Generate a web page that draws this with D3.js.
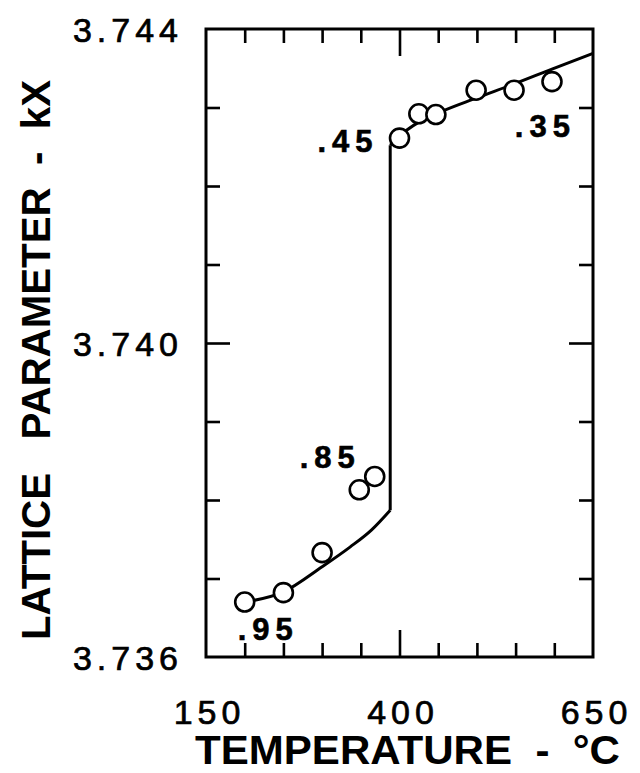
<!DOCTYPE html>
<html>
<head>
<meta charset="utf-8">
<script src="https://cdn.jsdelivr.net/npm/d3@7"></script>
<style>
  html, body { margin: 0; padding: 0; background: #fff; }
  svg { display: block; }
</style>
</head>
<body>
<svg id="chart" width="640" height="773"></svg>
<script>
// ---------- data ----------
const xDomain = [150, 650];
const yDomain = [3.736, 3.744];
const xTickLabels = [150, 400, 650];
const yTickLabels = [3.736, 3.740, 3.744];
const xMinorTicks = [200, 250, 300, 350, 400, 450, 500, 550, 600];
const yMinorTicks = [3.737, 3.738, 3.739, 3.740, 3.741, 3.742, 3.743];
const xMajorTick = 400;
const yMajorTick = 3.740;

// measured points (temperature °C, lattice parameter kX)
const pointT = [200, 250, 300, 348, 368, 400, 425, 447, 499, 548, 597];
const pointA = [3.73670, 3.73682, 3.73733, 3.73813, 3.73830, 3.74261, 3.74292, 3.74291, 3.74322, 3.74322, 3.74333];

// fitted curve: lower branch, jump, upper branch
const lowerT = [200, 250, 300, 336, 364, 388];
const lowerA = [3.73670, 3.73683, 3.73715, 3.73740, 3.73762, 3.73787];
const jumpT = 388;
const upperT = [388, 397, 426, 452, 499, 548, 597, 650];
const upperA = [3.74252, 3.74261, 3.74282, 3.74294, 3.74312, 3.74330, 3.74349, 3.74369];

// composition annotations
const annoText = [".95", ".85", ".45", ".35"];
const annoT = [191, 271, 294, 549];
const annoA = [3.73622, 3.73841, 3.74243, 3.74262];

// ---------- layout ----------
const svg = d3.select("#chart");
const L = 206, R = 593, T = 29, B = 657;
const x = d3.scaleLinear().domain(xDomain).range([L, R]);
const y = d3.scaleLinear().domain(yDomain).range([B, T]);

const ink = "#000";
const font = "'Liberation Sans', Arial, Helvetica, sans-serif";

const minorLen = 14, majorLen = 27;
const tx = t => (t === xMajorTick ? majorLen : minorLen);
const ty = t => (Math.abs(t - yMajorTick) < 1e-9 ? majorLen - 3 : minorLen);

svg.append("g").attr("transform", `translate(0,${B})`)
  .call(d3.axisTop(x).tickValues(xMinorTicks).tickFormat("").tickSizeOuter(0))
  .call(g => g.select(".domain").remove())
  .call(g => g.selectAll(".tick line").attr("y2", d => -tx(d)).attr("stroke", ink).attr("stroke-width", 2.6));

svg.append("g").attr("transform", `translate(0,${T})`)
  .call(d3.axisBottom(x).tickValues(xMinorTicks).tickFormat("").tickSizeOuter(0))
  .call(g => g.select(".domain").remove())
  .call(g => g.selectAll(".tick line").attr("y2", d => tx(d)).attr("stroke", ink).attr("stroke-width", 2.6));

svg.append("g").attr("transform", `translate(${L},0)`)
  .call(d3.axisRight(y).tickValues(yMinorTicks).tickFormat("").tickSizeOuter(0))
  .call(g => g.select(".domain").remove())
  .call(g => g.selectAll(".tick line").attr("x2", d => ty(d)).attr("stroke", ink).attr("stroke-width", 2.6));

svg.append("g").attr("transform", `translate(${R},0)`)
  .call(d3.axisLeft(y).tickValues(yMinorTicks).tickFormat("").tickSizeOuter(0))
  .call(g => g.select(".domain").remove())
  .call(g => g.selectAll(".tick line").attr("x2", d => -ty(d)).attr("stroke", ink).attr("stroke-width", 2.6));

// frame
svg.append("rect").attr("x", L).attr("y", T).attr("width", R - L).attr("height", B - T)
  .attr("fill", "none").attr("stroke", ink).attr("stroke-width", 3);

// tick labels
svg.append("g").attr("transform", `translate(0,${B})`)
  .call(d3.axisBottom(x).tickValues(xTickLabels).tickFormat(d3.format("d")).tickSize(0).tickPadding(0))
  .call(g => g.select(".domain").remove())
  .call(g => g.selectAll(".tick text")
    .attr("y", 67).attr("dy", 0).attr("dx", 3)
    .attr("font-family", font).attr("font-size", 34)
    .attr("letter-spacing", "5px").attr("fill", ink)
    .attr("stroke", ink).attr("stroke-width", 0.7));

svg.append("g").attr("transform", `translate(${L},0)`)
  .call(d3.axisLeft(y).tickValues(yTickLabels).tickFormat(d3.format(".3f")).tickSize(0).tickPadding(0))
  .call(g => g.select(".domain").remove())
  .call(g => g.selectAll(".tick text")
    .attr("x", -23).attr("dy", "0.36em")
    .attr("font-family", font).attr("font-size", 34)
    .attr("letter-spacing", "5px").attr("fill", ink)
    .attr("stroke", ink).attr("stroke-width", 0.7));

// curve
const lowerData = lowerT.map((t, i) => [t, lowerA[i]]);
const upperData = upperT.map((t, i) => [t, upperA[i]]);
const jumpData = [[jumpT, lowerA[lowerA.length - 1]], [jumpT, upperA[0]]];
const mk = c => d3.line().x(d => x(d[0])).y(d => y(d[1])).curve(c);
const curveG = svg.append("g").attr("fill", "none").attr("stroke", ink)
  .attr("stroke-width", 3).attr("stroke-linejoin", "round");
curveG.append("path").attr("d", mk(d3.curveMonotoneX)(lowerData));
curveG.append("path").attr("d", mk(d3.curveLinear)(jumpData));
curveG.append("path").attr("d", mk(d3.curveMonotoneX)(upperData));

// points
svg.append("g").selectAll("circle")
  .data(pointT.map((t, i) => [t, pointA[i]]))
  .join("circle")
  .attr("cx", d => x(d[0])).attr("cy", d => y(d[1])).attr("r", 9.5)
  .attr("fill", "#fff").attr("stroke", ink).attr("stroke-width", 2.6);

// annotations
svg.append("g").selectAll("text")
  .data(annoText.map((s, i) => ({ s, t: annoT[i], a: annoA[i] })))
  .join("text")
  .attr("x", d => x(d.t)).attr("y", d => y(d.a))
  .attr("font-family", font).attr("font-weight", "bold").attr("font-size", 31)
  .attr("letter-spacing", "6px").attr("fill", ink)
  .attr("stroke", ink).attr("stroke-width", 0.6)
  .text(d => d.s);

// axis titles
svg.append("text")
  .attr("x", 195).attr("y", 764)
  .attr("font-family", font).attr("font-weight", "bold").attr("font-size", 40)
  .attr("textLength", 425).attr("lengthAdjust", "spacingAndGlyphs")
  .attr("fill", ink).style("white-space", "pre")
  .text("TEMPERATURE  -  °C");

svg.append("text")
  .attr("transform", "translate(50,640) rotate(-90)")
  .attr("font-family", font).attr("font-weight", "bold").attr("font-size", 40)
  .attr("textLength", 560).attr("lengthAdjust", "spacingAndGlyphs")
  .attr("fill", ink).style("white-space", "pre")
  .text("LATTICE   PARAMETER  -  kX");
</script>
</body>
</html>
